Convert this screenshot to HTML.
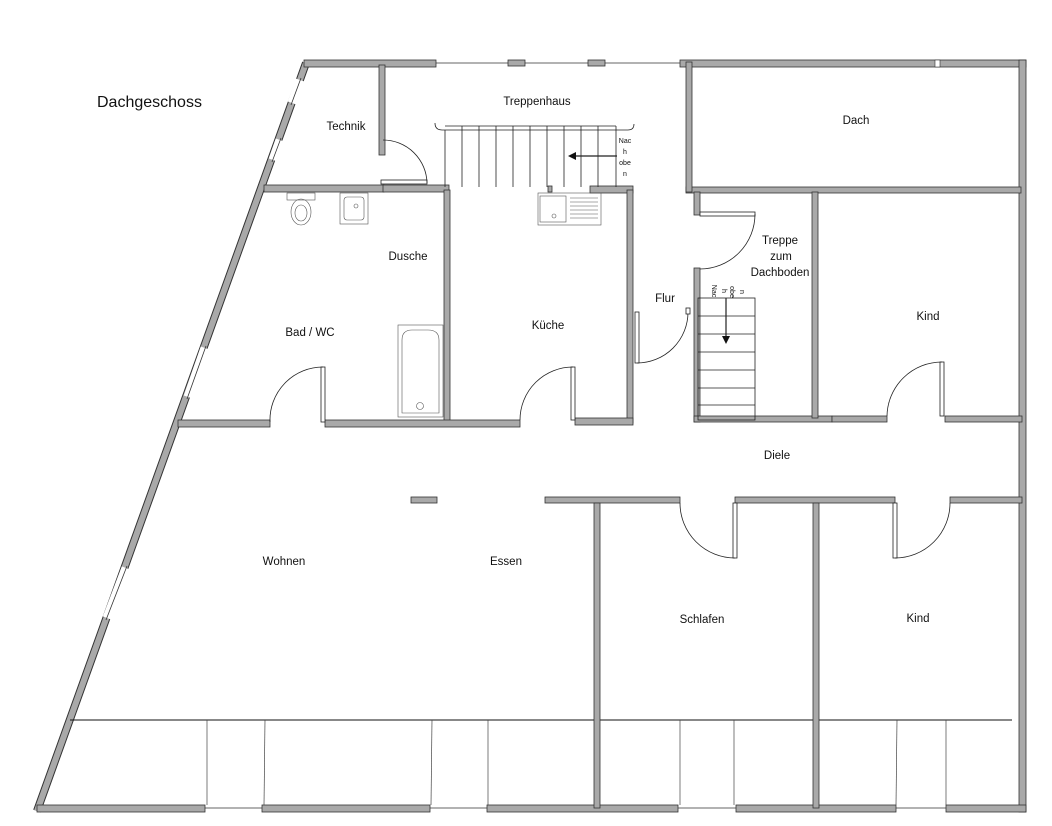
<!DOCTYPE html>
<html><head><meta charset="utf-8"><style>
html,body{margin:0;padding:0;background:#fff}
svg{display:block}
text{font-family:"Liberation Sans",sans-serif;fill:#111}
.w{fill:#a9a9a9;stroke:#333;stroke-width:0.8}
.t{fill:none;stroke:#222;stroke-width:0.8}
.g{fill:none;stroke:#555;stroke-width:0.6}
</style></head><body>
<svg width="1052" height="826" viewBox="0 0 1052 826">
<!-- slanted left wall -->
<line x1="306" y1="63" x2="37" y2="811" stroke="#333" stroke-width="8"/>
<line x1="306" y1="63" x2="37" y2="811" stroke="#a9a9a9" stroke-width="6"/>
<!-- windows on slant -->
<g stroke="#fff" stroke-width="9">
<line x1="300" y1="80" x2="292" y2="103"/>
<line x1="280" y1="140" x2="273" y2="160"/>
<line x1="205" y1="348" x2="188" y2="397"/>
<line x1="126" y1="568" x2="107" y2="618"/>
</g>
<g stroke="#333" stroke-width="0.8">
<line x1="301" y1="78" x2="291" y2="105"/>
<line x1="281" y1="138" x2="272" y2="162"/>
<line x1="206" y1="346" x2="187" y2="399"/>
<line x1="127" y1="566" x2="106" y2="620"/>
</g>
<!-- top wall -->
<rect class="w" x="304" y="60" width="132" height="7"/>
<line x1="436" y1="63" x2="682" y2="63" stroke="#333" stroke-width="0.8"/>
<rect class="w" x="508" y="60" width="17" height="6"/>
<rect class="w" x="588" y="60" width="17" height="6"/>
<rect class="w" x="680" y="60" width="346" height="7"/>
<rect x="935" y="60" width="5" height="7" fill="#fff" stroke="#333" stroke-width="0.6"/>
<!-- right wall -->
<rect class="w" x="1019" y="60" width="7" height="752"/>
<!-- bottom wall -->
<rect class="w" x="37" y="805" width="168" height="7"/>
<rect class="w" x="262" y="805" width="168" height="7"/>
<rect class="w" x="487" y="805" width="191" height="7"/>
<rect class="w" x="736" y="805" width="160" height="7"/>
<rect class="w" x="946" y="805" width="80" height="7"/>
<g stroke="#333" stroke-width="0.8">
<line x1="205" y1="808" x2="262" y2="808"/><line x1="430" y1="808" x2="487" y2="808"/>
<line x1="678" y1="808" x2="736" y2="808"/><line x1="896" y1="808" x2="946" y2="808"/>
</g>
<!-- thin line and window lines -->
<line x1="70" y1="720" x2="1012" y2="720" stroke="#111" stroke-width="1"/>
<g stroke="#444" stroke-width="0.7">
<line x1="207" y1="720" x2="207" y2="805"/><line x1="265" y1="720" x2="264" y2="805"/>
<line x1="432" y1="720" x2="431" y2="805"/><line x1="488" y1="720" x2="488" y2="805"/>
<line x1="680" y1="720" x2="680" y2="805"/><line x1="734" y1="720" x2="734" y2="805"/>
<line x1="897" y1="720" x2="896" y2="805"/><line x1="946" y1="720" x2="946" y2="805"/>
</g>
<!-- Technik wall -->
<rect class="w" x="379" y="65" width="6" height="90"/>
<!-- horizontal wall y~187 -->
<rect class="w" x="264" y="185" width="120" height="7"/>
<rect class="w" x="383" y="185" width="66" height="7"/>
<rect class="w" x="548" y="186" width="4" height="6"/>
<rect class="w" x="590" y="186" width="43" height="7"/>
<rect class="w" x="686" y="187" width="335" height="6"/>
<!-- Dach left wall -->
<rect class="w" x="686" y="62" width="6" height="130"/>
<!-- Bad/Kueche walls -->
<rect class="w" x="444" y="190" width="6" height="232"/>
<rect class="w" x="627" y="190" width="6" height="233"/>
<rect class="w" x="178" y="420" width="92" height="7"/>
<rect class="w" x="325" y="420" width="195" height="7"/>
<rect class="w" x="575" y="418" width="58" height="7"/>
<!-- Treppe zum Dachboden walls -->
<rect class="w" x="694" y="192" width="6" height="23"/>
<rect class="w" x="694" y="268" width="6" height="154"/>
<rect class="w" x="694" y="416" width="138" height="6"/>
<rect class="w" x="812" y="192" width="6" height="226"/>
<rect class="w" x="832" y="416" width="55" height="6"/>
<rect class="w" x="945" y="416" width="77" height="6"/>
<!-- Diele bottom -->
<rect class="w" x="545" y="497" width="135" height="6"/>
<rect class="w" x="735" y="497" width="160" height="6"/>
<rect class="w" x="950" y="497" width="72" height="6"/>
<rect class="w" x="594" y="503" width="6" height="305"/>
<rect class="w" x="813" y="503" width="6" height="305"/>
<rect class="w" x="411" y="497" width="26" height="6"/>
<!-- doors -->
<g class="t">
<rect x="381" y="180" width="46" height="4" fill="#fff"/>
<path d="M383 140 A44 44 0 0 1 427 183"/>
<rect x="321" y="367" width="4" height="55" fill="#fff"/>
<path d="M323 367 A53 53 0 0 0 270 422"/>
<rect x="571" y="367" width="4" height="53" fill="#fff"/>
<path d="M573 367 A53 53 0 0 0 520 420"/>
<rect x="940" y="362" width="4" height="54" fill="#fff"/>
<path d="M942 362 A55 55 0 0 0 887 416"/>
<rect x="700" y="212" width="55" height="4" fill="#fff"/>
<path d="M755 214 A55 55 0 0 1 700 269"/>
<rect x="635" y="312" width="4" height="51" fill="#fff"/>
<path d="M637 363 A51 51 0 0 0 688 312"/>
<rect x="686" y="308" width="4" height="6" fill="#fff"/>
<rect x="733" y="503" width="4" height="55" fill="#fff"/>
<path d="M680 503 A55 55 0 0 0 735 558"/>
<rect x="893" y="503" width="4" height="55" fill="#fff"/>
<path d="M950 503 A55 55 0 0 1 895 558"/>
</g>
<!-- Treppenhaus stairs -->
<g class="t">
<path d="M435 123 Q435 130 442 130 L628 130 Q634 130 634 124"/>
<line x1="445" y1="126" x2="616" y2="126"/>
<line x1="445" y1="130" x2="445" y2="187"/>
<line x1="462" y1="126" x2="462" y2="187"/><line x1="479" y1="126" x2="479" y2="187"/>
<line x1="496" y1="126" x2="496" y2="187"/><line x1="513" y1="126" x2="513" y2="187"/>
<line x1="530" y1="126" x2="530" y2="187"/><line x1="547" y1="126" x2="547" y2="187"/>
<line x1="564" y1="126" x2="564" y2="187"/><line x1="581" y1="126" x2="581" y2="187"/>
<line x1="598" y1="126" x2="598" y2="187"/><line x1="616" y1="126" x2="616" y2="187"/>
<line x1="617" y1="156" x2="574" y2="156" stroke-width="1.2"/>
</g>
<path d="M568 156 L576 152 L576 160 Z" fill="#111"/>
<g font-size="7" text-anchor="middle"><text x="625" y="143">Nac</text><text x="625" y="154">h</text><text x="625" y="165">obe</text><text x="625" y="176">n</text></g>
<!-- Dachboden stairs -->
<g class="t">
<rect x="698" y="298" width="57" height="122"/>
<line x1="698" y1="316" x2="755" y2="316"/><line x1="698" y1="334" x2="755" y2="334"/>
<line x1="698" y1="352" x2="755" y2="352"/><line x1="698" y1="370" x2="755" y2="370"/>
<line x1="698" y1="388" x2="755" y2="388"/><line x1="698" y1="405" x2="755" y2="405"/>
<line x1="726" y1="298" x2="726" y2="338" stroke-width="1.2"/>
</g>
<path d="M726 344 L722 336 L730 336 Z" fill="#111"/>
<g font-size="7" text-anchor="middle">
<text transform="translate(712,291) rotate(90)">Nac</text>
<text transform="translate(722,291) rotate(90)">h</text>
<text transform="translate(730,292) rotate(90)">obe</text>
<text transform="translate(740,292) rotate(90)">n</text>
</g>
<!-- fixtures -->
<g class="g">
<rect x="287" y="193" width="28" height="7"/>
<ellipse cx="301" cy="212" rx="10" ry="13"/><ellipse cx="301" cy="213" rx="6" ry="8"/>
<rect x="340" y="193" width="28" height="31"/><rect x="344" y="197" width="20" height="23" rx="3"/>
<circle cx="356" cy="206" r="2"/>
<rect x="398" y="325" width="45" height="92"/>
<path d="M402 413 L402 340 Q402 330 412 330 L428 330 Q439 330 439 340 L439 413 Z"/>
<circle cx="420" cy="406" r="3.5"/>
<rect x="538" y="193" width="63" height="32"/>
<rect x="540" y="196" width="26" height="26"/><circle cx="554" cy="216" r="2"/>
<line x1="570" y1="198" x2="598" y2="198"/><line x1="570" y1="202" x2="598" y2="202"/>
<line x1="570" y1="206" x2="598" y2="206"/><line x1="570" y1="210" x2="598" y2="210"/>
<line x1="570" y1="214" x2="598" y2="214"/><line x1="570" y1="218" x2="598" y2="218"/>
</g>
<!-- labels -->
<text x="97" y="107" font-size="16">Dachgeschoss</text>
<g font-size="11.5" text-anchor="middle">
<text x="346" y="130">Technik</text>
<text x="537" y="105">Treppenhaus</text>
<text x="856" y="124">Dach</text>
<text x="408" y="260">Dusche</text>
<text x="310" y="336">Bad / WC</text>
<text x="548" y="329">Küche</text>
<text x="665" y="302">Flur</text>
<text x="780" y="244">Treppe</text>
<text x="781" y="260">zum</text>
<text x="780" y="276">Dachboden</text>
<text x="928" y="320">Kind</text>
<text x="777" y="459">Diele</text>
<text x="284" y="565">Wohnen</text>
<text x="506" y="565">Essen</text>
<text x="702" y="623">Schlafen</text>
<text x="918" y="622">Kind</text>
</g>
</svg>
</body></html>
